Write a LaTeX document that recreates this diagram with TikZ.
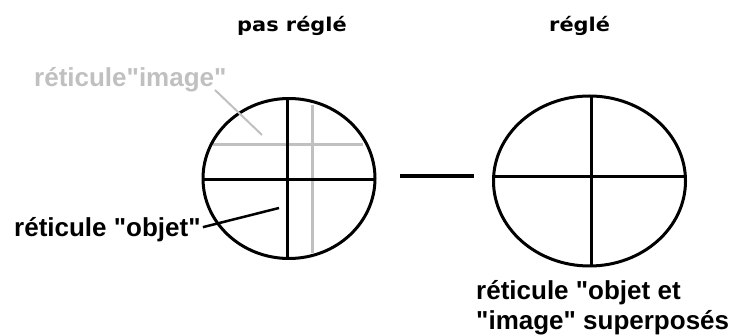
\documentclass[tikz,border=0pt]{standalone}
\usepackage{fontspec}
\setmainfont{Liberation Sans}[Ligatures=TeXOff]
\newfontfamily\titlefont[FakeStretch=1.1]{DejaVu Sans}
\definecolor{lightg}{RGB}{192,192,192}
\begin{document}
\begin{tikzpicture}[x=1pt,y=-1pt,
  lbl/.style={anchor=base west,inner sep=0pt,font=\fontsize{26}{30}\selectfont\bfseries},
  ttl/.style={anchor=base west,inner sep=0pt,font=\titlefont\fontsize{19}{22}\selectfont\bfseries},
  blk/.style={line width=3pt,black},
  gry/.style={line width=3pt,lightg}]
\useasboundingbox (0,0) rectangle (744,336);
% titles
\node[ttl] (t1) at (237,32) {pas réglé};
\node[ttl] (t2) at (549,32) {réglé};
% left reticle
\coordinate (c1) at (289,178.5);
\draw[gry] (213,145) -- (363,145);
\draw[gry] (312,105) -- (312,253);
\draw[blk] (203,180) -- (376,180);
\draw[blk] (287,99) -- (287,259);
\draw[blk] (c1) ellipse [x radius=86, y radius=80];
% right reticle
\coordinate (c2) at (589.5,181);
\draw[blk] (c2) ellipse [x radius=96, y radius=85];
\draw[blk] (493,177) -- (686,177);
\draw[blk] (591,96) -- (591,266);
% dash between
\coordinate (d1) at (400,176);
\coordinate (d2) at (474,176);
\draw[line width=4.5pt] (d1) -- (d2);
% labels
\node[lbl,text=lightg] (gimg) at (34,87) {réticule"image"};
\node[lbl] (gobj) at (14,237) {réticule "objet"};
\node[lbl] (sup1) at (476,300) {réticule "objet et};
\node[lbl] (sup2) at (476,330) {"image" superposés};
% leaders
\coordinate (gend) at (262,135);
\coordinate (bend) at (279,208);
\draw[gry,line width=2pt] (215,90) -- (gend);
\draw[blk,line width=2.5pt] (gobj.east) ++(2,-3) -- (bend);
\end{tikzpicture}
\end{document}
